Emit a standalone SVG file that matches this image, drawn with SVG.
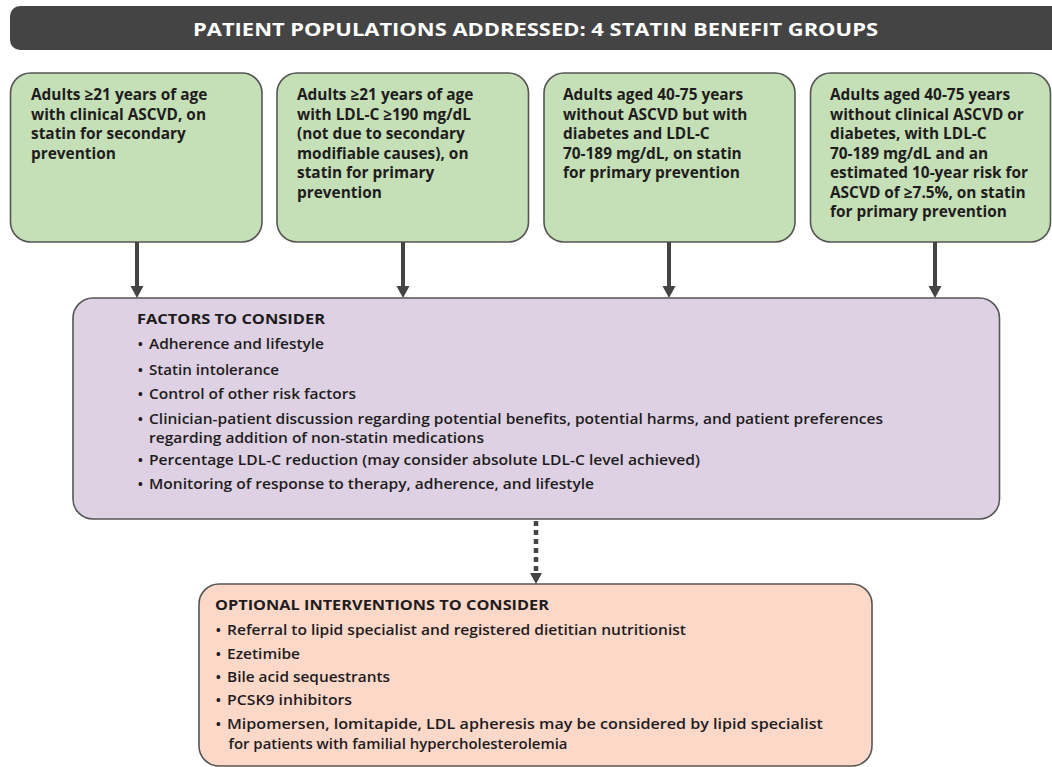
<svg xmlns="http://www.w3.org/2000/svg" width="1052" height="767" viewBox="0 0 1052 767">
<style>
.hdr{fill:#444444}
.hdrt{font-family:"Open Sans","Liberation Sans",sans-serif;font-weight:700;font-size:17.5px;fill:#ffffff}
.g{fill:#c5dfb7;stroke:#555555;stroke-width:1.6}
.p{fill:#ddd1e3;stroke:#555555;stroke-width:1.6}
.o{fill:#fcd8c9;stroke:#555555;stroke-width:1.6}
.gt{font-family:"Open Sans","Liberation Sans",sans-serif;font-weight:700;font-size:15.4px;fill:#1f1c1d}
.lt{font-family:"Open Sans","Liberation Sans",sans-serif;font-weight:600;font-size:15px;fill:#1f1c1d}
.lh{font-family:"Open Sans","Liberation Sans",sans-serif;font-weight:700;font-size:15px;fill:#1f1c1d}
.sh{stroke:#444444;stroke-width:4;fill:none}
.dsh{stroke:#444444;stroke-width:4.5;fill:none;stroke-dasharray:5 4}
.ah{fill:#444444}
</style>
<rect width="1052" height="767" fill="#ffffff"/>
<g id="header">
<rect class="hdr" x="10" y="6" width="1060" height="44" rx="10"/>
<text class="hdrt" x="193" y="35.5" textLength="685" lengthAdjust="spacingAndGlyphs">PATIENT POPULATIONS ADDRESSED: 4 STATIN BENEFIT GROUPS</text>
</g>
<g id="group1">
<rect class="g" x="10.5" y="73" width="251.5" height="169" rx="20"/>
<text class="gt" x="31" y="100">Adults ≥21 years of age</text>
<text class="gt" x="31" y="119.5">with clinical ASCVD, on</text>
<text class="gt" x="31" y="139">statin for secondary</text>
<text class="gt" x="31" y="158.5">prevention</text>
</g>
<g id="group2">
<rect class="g" x="277" y="73" width="251.5" height="169" rx="20"/>
<text class="gt" x="297" y="100">Adults ≥21 years of age</text>
<text class="gt" x="297" y="119.5">with LDL-C ≥190 mg/dL</text>
<text class="gt" x="297" y="139">(not due to secondary</text>
<text class="gt" x="297" y="158.5">modifiable causes), on</text>
<text class="gt" x="297" y="178">statin for primary</text>
<text class="gt" x="297" y="197.5">prevention</text>
</g>
<g id="group3">
<rect class="g" x="544" y="73" width="251" height="169" rx="20"/>
<text class="gt" x="563" y="100">Adults aged 40-75 years</text>
<text class="gt" x="563" y="119.5">without ASCVD but with</text>
<text class="gt" x="563" y="139">diabetes and LDL-C</text>
<text class="gt" x="563" y="158.5">70-189 mg/dL, on statin</text>
<text class="gt" x="563" y="178">for primary prevention</text>
</g>
<g id="group4">
<rect class="g" x="810.5" y="73" width="240" height="169" rx="20"/>
<text class="gt" x="830" y="100">Adults aged 40-75 years</text>
<text class="gt" x="830" y="119.5">without clinical ASCVD or</text>
<text class="gt" x="830" y="139">diabetes, with LDL-C</text>
<text class="gt" x="830" y="158.5">70-189 mg/dL and an</text>
<text class="gt" x="830" y="178">estimated 10-year risk for</text>
<text class="gt" x="830" y="197.5">ASCVD of ≥7.5%, on statin</text>
<text class="gt" x="830" y="217">for primary prevention</text>
</g>
<g id="connectors">
<line class="sh" x1="137" y1="242" x2="137" y2="288"/>
<polygon class="ah" points="130.5,286 143.5,286 137,298"/>
<line class="sh" x1="403" y1="242" x2="403" y2="288"/>
<polygon class="ah" points="396.5,286 409.5,286 403,298"/>
<line class="sh" x1="669" y1="242" x2="669" y2="288"/>
<polygon class="ah" points="662.5,286 675.5,286 669,298"/>
<line class="sh" x1="935" y1="242" x2="935" y2="288"/>
<polygon class="ah" points="928.5,286 941.5,286 935,298"/>
<line class="dsh" x1="536" y1="521" x2="536" y2="574"/>
<polygon class="ah" points="530,573 542,573 536,584"/>
</g>
<g id="factors">
<rect class="p" x="73" y="298" width="926.5" height="221" rx="20"/>
<text class="lh" x="137" y="324" textLength="188" lengthAdjust="spacingAndGlyphs">FACTORS TO CONSIDER</text>
<text class="lt" x="137.5" y="349">•</text>
<text class="lt" x="149" y="349" textLength="175" lengthAdjust="spacingAndGlyphs">Adherence and lifestyle</text>
<text class="lt" x="137.5" y="374.5">•</text>
<text class="lt" x="149" y="374.5" textLength="130" lengthAdjust="spacingAndGlyphs">Statin intolerance</text>
<text class="lt" x="137.5" y="399">•</text>
<text class="lt" x="149" y="399" textLength="207" lengthAdjust="spacingAndGlyphs">Control of other risk factors</text>
<text class="lt" x="137.5" y="423.5">•</text>
<text class="lt" x="149" y="423.5" textLength="734" lengthAdjust="spacingAndGlyphs">Clinician-patient discussion regarding potential benefits, potential harms, and patient preferences</text>
<text class="lt" x="149" y="443" textLength="335" lengthAdjust="spacingAndGlyphs">regarding addition of non-statin medications</text>
<text class="lt" x="137.5" y="465">•</text>
<text class="lt" x="149" y="465" textLength="551" lengthAdjust="spacingAndGlyphs">Percentage LDL-C reduction (may consider absolute LDL-C level achieved)</text>
<text class="lt" x="137.5" y="489">•</text>
<text class="lt" x="149" y="489" textLength="445" lengthAdjust="spacingAndGlyphs">Monitoring of response to therapy, adherence, and lifestyle</text>
</g>
<g id="interventions">
<rect class="o" x="199" y="584" width="673" height="182" rx="20"/>
<text class="lh" x="215" y="610" textLength="334" lengthAdjust="spacingAndGlyphs">OPTIONAL INTERVENTIONS TO CONSIDER</text>
<text class="lt" x="215.5" y="635">•</text>
<text class="lt" x="227" y="635" textLength="459" lengthAdjust="spacingAndGlyphs">Referral to lipid specialist and registered dietitian nutritionist</text>
<text class="lt" x="215.5" y="659">•</text>
<text class="lt" x="227" y="659" textLength="73" lengthAdjust="spacingAndGlyphs">Ezetimibe</text>
<text class="lt" x="215.5" y="682">•</text>
<text class="lt" x="227" y="682" textLength="163" lengthAdjust="spacingAndGlyphs">Bile acid sequestrants</text>
<text class="lt" x="215.5" y="705">•</text>
<text class="lt" x="227" y="705" textLength="125" lengthAdjust="spacingAndGlyphs">PCSK9 inhibitors</text>
<text class="lt" x="215.5" y="728.5">•</text>
<text class="lt" x="227" y="728.5" textLength="596" lengthAdjust="spacingAndGlyphs">Mipomersen, lomitapide, LDL apheresis may be considered by lipid specialist</text>
<text class="lt" x="228.5" y="748.5" textLength="339" lengthAdjust="spacingAndGlyphs">for patients with familial hypercholesterolemia</text>
</g>
</svg>
